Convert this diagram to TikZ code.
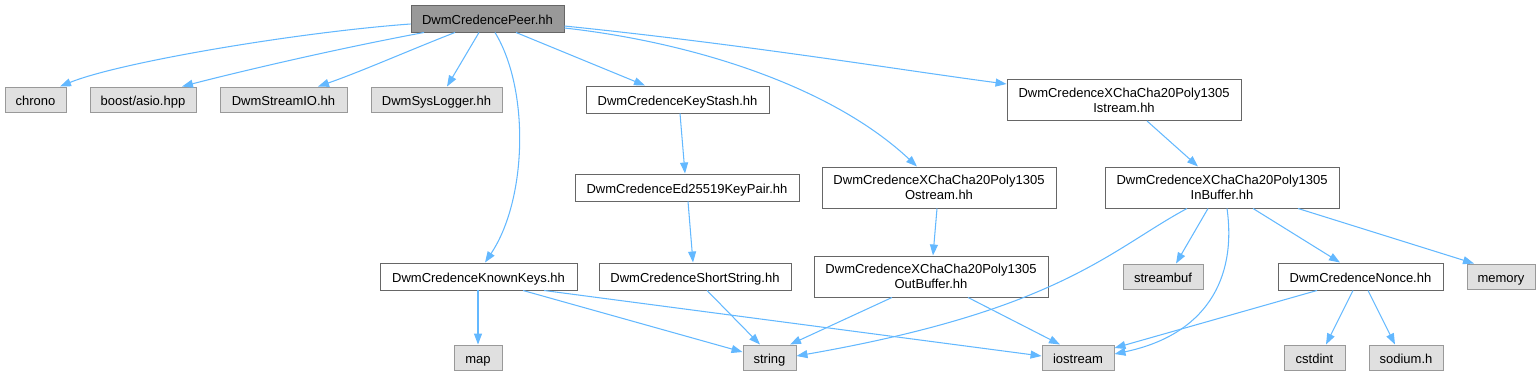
\documentclass[tikz,border=0pt]{standalone}
\usepackage{fontspec}
\setmainfont{Liberation Sans}
\usepackage{xcolor}
\usetikzlibrary{arrows.meta}
\definecolor{edgeblue}{HTML}{63B8FF}
\definecolor{boxline}{HTML}{666666}
\definecolor{sysfill}{HTML}{E0E0E0}
\definecolor{sysline}{HTML}{999999}

\begin{document}
\begin{tikzpicture}[
    x=0.02cm, y=-0.02cm,
    hdr/.style={draw=boxline, line width=0.55pt, fill=white, inner sep=0pt, align=center, minimum height=0.54cm, text height=1.55ex, text depth=0.35ex, font=\fontsize{7.4}{8.6}\selectfont},
    sys/.style={hdr, draw=sysline, fill=sysfill, minimum height=0.5cm},
    root/.style={hdr, fill=sysline},
    two/.style={minimum height=0.82cm, text height=, text depth=},
    arr/.style={-{Triangle[length=0.22cm,width=0.16cm]}, draw=edgeblue, line width=0.6pt}
]
\useasboundingbox (0,0) rectangle (1540,376);

% Root file
\node[root, minimum width=3.06cm] (peer) at (487.5,18.5) {DwmCredencePeer.hh};

% First row
\node[sys, minimum width=1.22cm] (chrono) at (35.5,99.5) {chrono};
\node[sys, minimum width=2.12cm] (asio) at (143,99.5) {boost/asio.hpp};
\node[sys, minimum width=2.54cm] (streamio) at (283.5,99.5) {DwmStreamIO.hh};
\node[sys, minimum width=2.62cm] (syslog) at (436.5,99.5) {DwmSysLogger.hh};
\node[hdr, minimum width=3.66cm] (keystash) at (677.5,99.5) {DwmCredenceKeyStash.hh};
\node[hdr, two, minimum width=4.68cm] (istream) at (1124,100) {DwmCredenceXChaCha20Poly1305\\Istream.hh};

% Second row
\node[hdr, minimum width=4.48cm] (keypair) at (687,187.5) {DwmCredenceEd25519KeyPair.hh};
\node[hdr, two, minimum width=4.68cm] (ostream) at (939,187.5) {DwmCredenceXChaCha20Poly1305\\Ostream.hh};
\node[hdr, two, minimum width=4.68cm] (inbuf) at (1222,187.5) {DwmCredenceXChaCha20Poly1305\\InBuffer.hh};

% Third row
\node[hdr, minimum width=3.94cm] (knownkeys) at (478.5,276.5) {DwmCredenceKnownKeys.hh};
\node[hdr, minimum width=3.84cm] (shortstr) at (695,276.5) {DwmCredenceShortString.hh};
\node[hdr, two, minimum width=4.68cm] (outbuf) at (931,276.5) {DwmCredenceXChaCha20Poly1305\\OutBuffer.hh};
\node[sys, minimum width=1.6cm] (streambuf) at (1163,276.5) {streambuf};
\node[hdr, minimum width=3.3cm] (nonce) at (1360.5,276.5) {DwmCredenceNonce.hh};
\node[sys, minimum width=1.36cm] (memory) at (1501,276.5) {memory};

% Fourth row
\node[sys, minimum width=0.96cm] (map) at (478,357.5) {map};
\node[sys, minimum width=1.06cm] (string) at (769.5,357.5) {string};
\node[sys, minimum width=1.44cm] (iostream) at (1078,357.5) {iostream};
\node[sys, minimum width=1.22cm] (cstdint) at (1314.5,357.5) {cstdint};
\node[sys, minimum width=1.48cm] (sodium) at (1406,357.5) {sodium.h};

% Edges from the root
\draw[arr] (peer.west |- 0,24) .. controls (300,32) and (120,62) .. (chrono.north -| 60,0);
\draw[arr] (peer.south -| 424,0) .. controls (330,50) and (230,74) .. (asio.north -| 182,0);
\draw[arr] (peer.south -| 455,0) .. controls (410,50) and (360,72) .. (streamio.north -| 318,0);
\draw[arr] (peer.south -| 479,0) -- (syslog.north -| 447,0);
\draw[arr] (peer.south -| 495,0) .. controls (530,90) and (527,200) .. (knownkeys.north -| 485,0);
\draw[arr] (peer.south -| 516,0) -- (keystash.north -| 645,0);
\draw[arr] (peer.east |- 0,28) .. controls (690,42) and (830,85) .. (ostream.north -| 917,0);
\draw[arr] (peer.east |- 0,26) .. controls (750,45) and (900,70) .. (istream.west |- 0,84);

% Edges of the inner headers
\draw[arr] (keystash.south -| 680,0) -- (keypair.north -| 685,0);
\draw[arr] (keypair.south -| 688,0) -- (shortstr.north -| 693,0);
\draw[arr] (ostream.south -| 937,0) -- (outbuf.north -| 933,0);
\draw[arr] (istream.south -| 1147,0) -- (inbuf.north -| 1198,0);
\draw[arr] (knownkeys.south -| 478,0) -- (map.north);
\draw[arr] (knownkeys.south -| 523,0) -- (string.west |- 0,352);
\draw[arr] (knownkeys.south -| 544,0) -- (iostream.west |- 0,356);
\draw[arr] (shortstr.south -| 707,0) -- (string.north -| 760,0);
\draw[arr] (outbuf.south -| 892,0) -- (string.north -| 790,0);
\draw[arr] (outbuf.south -| 968,0) -- (iostream.north -| 1060,0);

% Edges of the input buffer
\draw[arr] (inbuf.south -| 1187,0) .. controls (1110,250) and (1060,310) .. (string.east |- 0,356);
\draw[arr] (inbuf.south -| 1208,0) -- (streambuf.north -| 1176,0);
\draw[arr] (inbuf.south -| 1227,0) .. controls (1237,280) and (1205,335) .. (iostream.east |- 0,354);
\draw[arr] (inbuf.south -| 1253,0) -- (nonce.north -| 1340,0);
\draw[arr] (inbuf.south -| 1298,0) -- (memory.north -| 1474,0);

% Edges of the nonce
\draw[arr] (nonce.south -| 1317,0) -- (iostream.east |- 0,348);
\draw[arr] (nonce.south -| 1353,0) -- (cstdint.north -| 1326,0);
\draw[arr] (nonce.south -| 1368,0) -- (sodium.north -| 1395,0);
\end{tikzpicture}
\end{document}
